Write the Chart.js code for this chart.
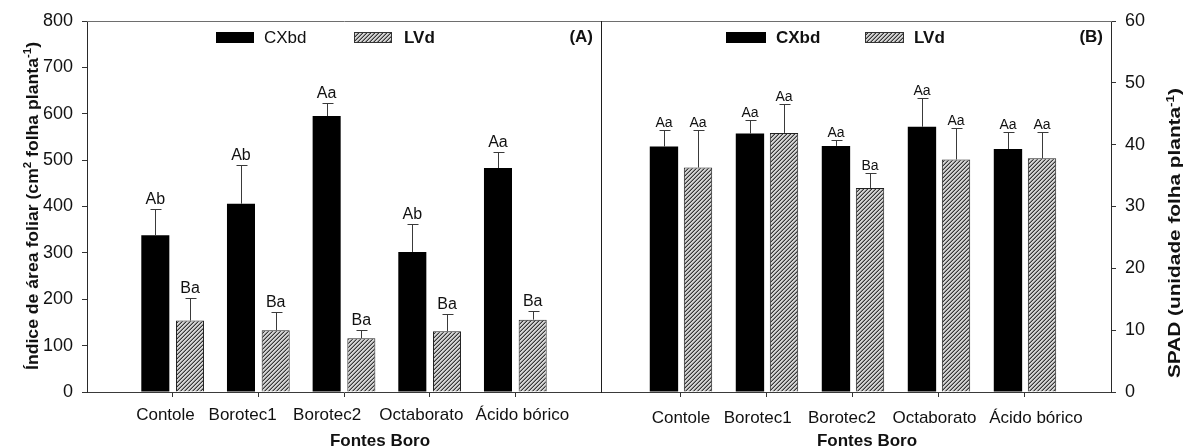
<!DOCTYPE html>
<html>
<head>
<meta charset="utf-8">
<script src="https://cdn.jsdelivr.net/npm/chart.js@4.4.1/dist/chart.umd.min.js"></script>
<style>
  html, body { margin: 0; padding: 0; background: #fff; }
  #wrap { position: relative; width: 1184px; height: 448px; overflow: hidden; }
  canvas { position: absolute; top: 0; }
  #cA { left: 0; }
  #cB { left: 601px; }
</style>
</head>
<body>
<div id="wrap">
  <canvas id="cA" width="602" height="448"></canvas>
  <canvas id="cB" width="583" height="448"></canvas>
</div>
<script>
// Boron sources (x categories) and soil series
const categories = ['Contole', 'Borotec1', 'Borotec2', 'Octaborato', 'Ácido bórico'];
const seriesNames = ['CXbd', 'LVd'];

// (A) leaf area index, cm² folha planta⁻¹
const areaCX = [338, 406, 595, 302, 483];
const areaCXErr = [56, 83, 29, 60, 34];
const areaLV = [154, 133, 116, 131, 156];
const areaLVErr = [49, 39, 17, 38, 19];
const areaCXLetters = ['Ab', 'Ab', 'Aa', 'Ab', 'Aa'];
const areaLVLetters = ['Ba', 'Ba', 'Ba', 'Ba', 'Ba'];
const areaTicks = [0, 100, 200, 300, 400, 500, 600, 700, 800];

// (B) SPAD readings
const spadCX = [39.7, 41.8, 39.8, 42.9, 39.3];
const spadCXErr = [2.7, 2.2, 0.9, 4.6, 2.8];
const spadLV = [36.3, 41.9, 33.0, 37.6, 37.8];
const spadLVErr = [6.1, 4.6, 2.4, 5.1, 4.3];
const spadCXLetters = ['Aa', 'Aa', 'Aa', 'Aa', 'Aa'];
const spadLVLetters = ['Aa', 'Aa', 'Ba', 'Aa', 'Aa'];
const spadTicks = [0, 10, 20, 30, 40, 50, 60];

const FAMILY = '"Liberation Sans", Arial, Helvetica, sans-serif';
const INK = '#111';

// diagonal "/" hatch used for the LVd bars
function makeHatch() {
  const c = document.createElement('canvas');
  c.width = 4; c.height = 4;
  const g = c.getContext('2d');
  const img = g.createImageData(4, 4);
  for (let y = 0; y < 4; y++) {
    for (let x = 0; x < 4; x++) {
      const k = (x + y) % 4;
      const v = k === 3 ? 55 : (k === 2 ? 140 : 212);
      const i = (y * 4 + x) * 4;
      img.data[i] = v; img.data[i + 1] = v; img.data[i + 2] = v; img.data[i + 3] = 255;
    }
  }
  g.putImageData(img, 0, 0);
  return g.createPattern(c, 'repeat');
}

// text with superscript pieces, laid out along a baseline starting at x
function richWidth(ctx, parts, size) {
  let w = 0;
  for (const p of parts) {
    ctx.font = 'bold ' + (p.sup ? Math.round(size * 0.62) : size) + 'px ' + FAMILY;
    w += ctx.measureText(p.t).width;
  }
  return w;
}
function drawRich(ctx, parts, x, y, size) {
  for (const p of parts) {
    const s = p.sup ? Math.round(size * 0.62) : size;
    ctx.font = 'bold ' + s + 'px ' + FAMILY;
    ctx.fillText(p.t, x, p.sup ? y - size * 0.38 : y);
    x += ctx.measureText(p.t).width;
  }
}

// error bars, significance letters, category names, frame, legend and titles
const panelDecor = {
  id: 'panelDecor',
  afterDatasetsDraw(chart, args, o) {
    const ctx = chart.ctx;
    const ys = chart.scales.y;
    ctx.save();
    chart.data.datasets.forEach((ds, di) => {
      const meta = chart.getDatasetMeta(di);
      meta.data.forEach((bar, i) => {
        const top = ys.getPixelForValue(ds.data[i].y + ds.errors[i]);
        const x = Math.round(bar.x) + 0.5;
        const ty = Math.round(top) + 0.5;
        ctx.strokeStyle = '#3a3a3a';
        ctx.lineWidth = 1;
        ctx.beginPath();
        ctx.moveTo(x, bar.y);
        ctx.lineTo(x, ty);
        ctx.moveTo(x - 5, ty);
        ctx.lineTo(x + 6, ty);
        ctx.stroke();
        ctx.fillStyle = INK;
        ctx.font = o.labelSize + 'px ' + FAMILY;
        ctx.textAlign = 'center';
        ctx.textBaseline = 'alphabetic';
        ctx.fillText(ds.letters[i], bar.x, top - o.labelGap);
      });
    });
    ctx.restore();
  },
  afterDraw(chart, args, o) {
    const ctx = chart.ctx;
    const a = chart.chartArea;
    const xs = chart.scales.x;
    ctx.save();
    // top frame line
    ctx.strokeStyle = '#6e6e6e';
    ctx.lineWidth = 1;
    ctx.beginPath();
    ctx.moveTo(o.frameLeft, a.top + 0.5);
    ctx.lineTo(o.frameRight, a.top + 0.5);
    ctx.stroke();
    if (o.leftBorder) {
      ctx.strokeStyle = '#1e1e1e';
      ctx.beginPath();
      ctx.moveTo(a.left + 0.5, a.top);
      ctx.lineTo(a.left + 0.5, a.bottom + 1);
      ctx.stroke();
    }
    // category names under the axis
    ctx.fillStyle = INK;
    ctx.font = '17px ' + FAMILY;
    ctx.textAlign = 'center';
    ctx.textBaseline = 'alphabetic';
    categories.forEach((c, i) => {
      ctx.fillText(c, xs.getPixelForValue(i + 1 + o.nameShift[i]), o.nameY);
    });
    // legend
    ctx.textBaseline = 'middle';
    ctx.textAlign = 'left';
    o.legend.forEach((item, k) => {
      ctx.fillStyle = k === 0 ? '#000' : o.hatch;
      ctx.fillRect(item.x, o.legendY, item.w, o.legendH);
      if (k === 1) {
        ctx.strokeStyle = '#333';
        ctx.strokeRect(item.x + 0.5, o.legendY + 0.5, item.w - 1, o.legendH - 1);
      }
      ctx.fillStyle = INK;
      ctx.font = (item.bold ? 'bold ' : '') + '17px ' + FAMILY;
      ctx.fillText(seriesNames[k], item.tx, o.legendY + o.legendH / 2 + 0.5);
    });
    // panel tag
    ctx.font = 'bold 17px ' + FAMILY;
    ctx.textAlign = 'right';
    ctx.fillText(o.tag.text, o.tag.x, o.tag.y);
    // x title
    ctx.textAlign = 'center';
    ctx.textBaseline = 'alphabetic';
    ctx.fillText(o.xTitle.text, o.xTitle.x, o.xTitle.y);
    // rotated y title
    const t = o.yTitle;
    const w = richWidth(ctx, t.parts, t.size);
    ctx.translate(t.x, t.y);
    ctx.rotate(-Math.PI / 2);
    ctx.scale(t.length / w, 1);
    ctx.textAlign = 'left';
    drawRich(ctx, t.parts, -w / 2, 0, t.size);
    ctx.restore();
  }
};

const hatch = makeHatch();

function points(vals) { return vals.map((v, i) => ({ x: i + 1, y: v })); }

function buildChart(id, cfg) {
  const datasets = [
    { label: seriesNames[0], data: points(cfg.cx), errors: cfg.cxErr, letters: cfg.cxLetters,
      backgroundColor: '#000', borderColor: '#000', borderWidth: 0 },
    { label: seriesNames[1], data: points(cfg.lv), errors: cfg.lvErr, letters: cfg.lvLetters,
      backgroundColor: hatch, borderColor: '#222', borderWidth: 1 }
  ];
  const ticks = cfg.yTicks;
  return new Chart(document.getElementById(id), {
    type: 'bar',
    data: { datasets },
    options: {
      responsive: false,
      animation: false,
      events: [],
      layout: { padding: cfg.padding },
      datasets: { bar: { categoryPercentage: cfg.catPct, barPercentage: cfg.barPct } },
      scales: {
        x: {
          type: 'linear', min: cfg.xMin, max: 6, offset: false,
          afterBuildTicks: s => { s.ticks = categories.map((c, i) => ({ value: i + 1 })); },
          afterFit: s => { s.height = 56; },
          grid: { display: true, offset: false, drawOnChartArea: false, drawTicks: true, tickLength: 5, tickColor: '#333' },
          border: { display: true, color: '#3a3a3a', width: 1 },
          ticks: { autoSkip: false, maxRotation: 0, minRotation: 0, font: { family: FAMILY, size: 17 },
                   callback: () => '' }
        },
        y: {
          position: cfg.yPos,
          min: ticks[0], max: ticks[ticks.length - 1],
          afterBuildTicks: s => { s.ticks = ticks.map(v => ({ value: v })); },
          afterFit: s => { s.width = cfg.yWidth; },
          grid: { display: true, drawOnChartArea: false, drawTicks: true, tickLength: 5, tickColor: '#333' },
          border: { display: true, color: '#2a2a2a', width: 1 },
          ticks: { padding: 9, font: { family: FAMILY, size: 18 }, color: INK }
        }
      },
      plugins: {
        legend: { display: false },
        tooltip: { enabled: false },
        panelDecor: Object.assign({ hatch }, cfg.decor)
      }
    },
    plugins: [panelDecor]
  });
}

buildChart('cA', {
  cx: areaCX, cxErr: areaCXErr, lv: areaLV, lvErr: areaLVErr,
  cxLetters: areaCXLetters, lvLetters: areaLVLetters, yTicks: areaTicks,
  padding: { top: 21, right: 1, bottom: 0, left: 0 },
  catPct: 0.81, barPct: 0.808, xMin: 0, yPos: 'left', yWidth: 87,
  decor: {
    labelSize: 16, labelGap: 5,
    nameShift: [-0.084, -0.184, -0.197, -0.097, 0.082], nameY: 420,
    frameLeft: 87, frameRight: 602, leftBorder: false,
    legendY: 32, legendH: 11,
    legend: [ { x: 216, w: 38, tx: 264, bold: false }, { x: 354, w: 38, tx: 404, bold: true } ],
    tag: { text: '(A)', x: 593, y: 37 },
    xTitle: { text: 'Fontes Boro', x: 380, y: 446 },
    yTitle: { x: 37.5, y: 206, size: 17, length: 328,
      parts: [ { t: 'Índice de área foliar (cm' }, { t: '2', sup: true }, { t: ' folha planta' }, { t: '-1', sup: true }, { t: ')' } ] }
  }
});

buildChart('cB', {
  cx: spadCX, cxErr: spadCXErr, lv: spadLV, lvErr: spadLVErr,
  cxLetters: spadCXLetters, lvLetters: spadLVLetters, yTicks: spadTicks,
  padding: { top: 21, right: 0, bottom: 0, left: 0 },
  catPct: 0.792, barPct: 0.833, xMin: 0.07, yPos: 'right', yWidth: 73,
  decor: {
    labelSize: 14, labelGap: 3,
    nameShift: [0, -0.108, -0.128, -0.052, 0.127], nameY: 423,
    frameLeft: 0, frameRight: 511, leftBorder: true,
    legendY: 32, legendH: 11,
    legend: [ { x: 125, w: 40, tx: 175, bold: true }, { x: 264, w: 39, tx: 313, bold: true } ],
    tag: { text: '(B)', x: 502, y: 37 },
    xTitle: { text: 'Fontes Boro', x: 266, y: 446 },
    yTitle: { x: 579, y: 233, size: 17, length: 290,
      parts: [ { t: 'SPAD (unidade folha planta' }, { t: '-1', sup: true }, { t: ')' } ] }
  }
});
</script>
</body>
</html>
